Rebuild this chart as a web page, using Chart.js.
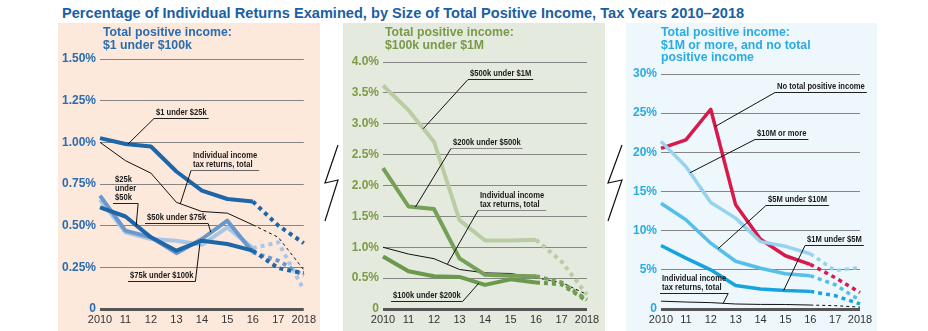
<!DOCTYPE html>
<html>
<head>
<meta charset="utf-8">
<script src="https://cdn.jsdelivr.net/npm/chart.js@4"></script>
<style>
  body { margin: 0; width: 928px; height: 331px; position: relative; background: #fff; overflow: hidden;
         font-family: 'Liberation Sans', Arial, sans-serif; }
  #title { position: absolute; left: 62px; top: 5px; font-weight: bold; font-size: 14.6px; color: #1a5fa5; white-space: nowrap; }
  .panel { position: absolute; top: 23px; height: 308px; }
  .panel canvas { position: absolute; left: 0; top: 0; }
  .sub { position: absolute; top: 3px; font-weight: bold; font-size: 12.3px; line-height: 12.5px; white-space: nowrap; }
  svg { position: absolute; left: 0; top: 0; }
</style>
</head>
<body>
<div id="title">Percentage of Individual Returns Examined, by Size of Total Positive Income, Tax Years 2010–2018</div>

<div class="panel" style="left:58px;width:262px;background:#fde9dc">
  <canvas id="c1" width="262" height="308"></canvas>
  <div class="sub" style="left:45px;color:#2a6cb0">Total positive income:<br>$1 under $100k</div>
</div>
<div class="panel" style="left:343px;width:262px;background:#e5eadf">
  <canvas id="c2" width="262" height="308"></canvas>
  <div class="sub" style="left:42px;color:#7a9a48">Total positive income:<br>$100k under $1M</div>
</div>
<div class="panel" style="left:626px;width:251px;background:#eef7fc">
  <canvas id="c3" width="251" height="308"></canvas>
  <div class="sub" style="left:35px;color:#2aabe3">Total positive income:<br>$1M or more, and no total<br>positive income</div>
</div>

<svg width="928" height="331">
  <polyline points="338,145 325,183 338,180 325,221" fill="none" stroke="#111" stroke-width="1.2"/>
  <polyline points="622,145 608,183 622,180 608,221" fill="none" stroke="#111" stroke-width="1.2"/>
</svg>

<script>
// tax years on the x axis
const years = ['2010', '11', '12', '13', '14', '15', '16', '17', '2018'];

// all individual income tax returns (same in every panel), percent examined
const totalAll = [1.00, 0.89, 0.815, 0.64, 0.585, 0.575, 0.505, 0.43, 0.235];

// panel 1: $1 under $100k
const under25k = [1.025, 0.99, 0.975, 0.825, 0.71, 0.66, 0.645, 0.50, 0.395];
const k25to50 = [0.61, 0.555, 0.43, 0.35, 0.41, 0.39, 0.35, 0.245, 0.215];
const k50to75 = [0.68, 0.47, 0.43, 0.335, 0.42, 0.53, 0.34, 0.29, 0.20];
const k75to100 = [0.655, 0.46, 0.42, 0.41, 0.385, 0.49, 0.365, 0.40, 0.115];
const p1Ticks = ['0', '0.25%', '0.50%', '0.75%', '1.00%', '1.25%', '1.50%'];

// panel 2: $100k under $1M
const k100to200 = [0.85, 0.61, 0.53, 0.52, 0.39, 0.48, 0.43, 0.40, 0.13];
const k200to500 = [2.28, 1.66, 1.62, 0.82, 0.555, 0.54, 0.53, 0.43, 0.15];
const k500to1m = [3.62, 3.22, 2.71, 1.44, 1.11, 1.11, 1.12, 0.77, 0.23];
const p2Ticks = ['0', '0.5%', '1.0%', '1.5%', '2.0%', '2.5%', '3.0%', '3.5%', '4.0%'];

// panel 3: $1M or more, and no total positive income
const m1to5 = [8.1, 6.5, 5.0, 3.0, 2.55, 2.35, 2.25, 1.7, 0.65];
const m5to10 = [13.5, 11.4, 8.4, 6.1, 5.2, 4.5, 4.25, 3.1, 1.1];
const m10plus = [21.4, 18.2, 13.6, 11.6, 8.6, 8.0, 7.05, 4.9, 5.3];
const noIncome = [20.5, 21.6, 25.5, 13.3, 8.9, 6.8, 5.7, 4.0, 2.1];
const p3Ticks = ['0', '5%', '10%', '15%', '20%', '25%', '30%'];

const SANS = "'Liberation Sans', Arial, sans-serif";
const SQUEEZE = 0.8; // note labels are a condensed face, fake it by scaling

// lines go dashed after 2016 (projected years)
function series(data, color, width, dash) {
	return {
		data, borderColor: color, borderWidth: width, pointRadius: 0, tension: 0,
		borderCapStyle: 'butt', borderJoinStyle: 'round',
		segment: { borderDash: ctx => ctx.p0DataIndex >= 6 ? dash : undefined }
	};
}
const total = () => series(totalAll, '#111', 1, [3, 3]);

// label + underline + leader line, positioned in data units
const notesPlugin = {
	id: 'notes',
	afterDatasetsDraw(chart, args, opts) {
		const { ctx, scales: { x, y } } = chart;
		ctx.save();
		ctx.font = 'bold 9.5px ' + SANS;
		ctx.textBaseline = 'alphabetic';
		for (const n of opts.items || []) {
			const px = Math.round(x.getPixelForValue(n.at[0])), py = Math.round(y.getPixelForValue(n.at[1]));
			const w = Math.max(...n.lines.map(l => ctx.measureText(l).width)) * SQUEEZE + 4;
			ctx.fillStyle = '#1a1a1a';
			n.lines.forEach((l, i) => {
				ctx.save();
				ctx.translate(px + 2, py - 3 - (n.lines.length - 1 - i) * 9);
				ctx.scale(SQUEEZE, 1);
				ctx.fillText(l, 0, 0);
				ctx.restore();
			});
			ctx.strokeStyle = n.rule || '#222';
			ctx.lineWidth = 1;
			ctx.beginPath(); ctx.moveTo(px, py + 0.5); ctx.lineTo(px + w, py + 0.5); ctx.stroke();
			const sx = n.from === 'right' ? px + w : px;
			ctx.strokeStyle = '#111';
			ctx.beginPath(); ctx.moveTo(sx, py + 0.5);
			ctx.lineTo(x.getPixelForValue(n.to[0]), y.getPixelForValue(n.to[1])); ctx.stroke();
		}
		ctx.restore();
	}
};

function makePanel(id, opts) {
	return new Chart(document.getElementById(id), {
		type: 'line',
		data: { labels: years, datasets: opts.datasets },
		plugins: [notesPlugin],
		options: {
			responsive: false,
			animation: false,
			layout: { padding: { top: opts.top, right: opts.right, left: 0, bottom: 0 } },
			plugins: { legend: { display: false }, tooltip: { enabled: false }, notes: { items: opts.notes } },
			scales: {
				x: {
					grid: { display: false, drawTicks: false },
					border: { display: false },
					afterFit: s => { s.height = 22; },
					ticks: { color: '#333', autoSkip: false, maxRotation: 0, padding: 4,
						font: { family: SANS, size: 11 } }
				},
				y: {
					min: 0, max: opts.max,
					afterFit: s => { s.width = opts.axisW; },
					border: { display: false },
					grid: {
						drawTicks: false,
						color: c => c.tick && c.tick.value === 0 ? '#555' : '#858585',
						lineWidth: c => c.tick && c.tick.value === 0 ? 3 : 1
					},
					ticks: { stepSize: opts.step, padding: 4, color: opts.tickColor,
						font: { family: SANS, size: 12, weight: 'bold' },
						callback: (v, i) => opts.ticks[i] }
				}
			}
		}
	});
}

makePanel('c1', {
	max: 1.5, step: 0.25, ticks: p1Ticks, tickColor: '#2a6cb0', axisW: 42, top: 36, right: 12,
	datasets: [
		total(),
		series(k25to50, '#1d66a8', 4, [4, 4]),
		series(under25k, '#1d66a8', 4, [4, 4]),
		series(k50to75, '#6b98cb', 4, [4, 4]),
		series(k75to100, '#a9c6e6', 4, [4, 4])
	],
	notes: [
		{ lines: ['$1 under $25k'], at: [2.12, 1.147], from: 'left', to: [1.1, 0.99] },
		{ lines: ['Individual income', 'tax returns, total'], at: [3.58, 0.836], from: 'left', to: [3.15, 0.63], rule: '#666' },
		{ lines: ['$25k', 'under', '$50k'], at: [0.5, 0.638], from: 'right', to: [1.42, 0.5] },
		{ lines: ['$50k under $75k'], at: [1.77, 0.518], from: 'right', to: [4.35, 0.46] },
		{ lines: ['$75k under $100k'], at: [1.08, 0.17], from: 'right', to: [3.92, 0.39] }
	]
});

makePanel('c2', {
	max: 4, step: 0.5, ticks: p2Ticks, tickColor: '#7d9b46', axisW: 40, top: 39, right: 18,
	datasets: [
		series(k500to1m, '#bacca4', 4, [4, 4]),
		series(k200to500, '#76a058', 4, [4, 4]),
		series(k100to200, '#6a994b', 4, [4, 4]),
		total()
	],
	notes: [
		{ lines: ['$500k under $1M'], at: [3.33, 3.72], from: 'left', to: [1.58, 2.92] },
		{ lines: ['$200k under $500k'], at: [2.65, 2.61], from: 'left', to: [1.27, 1.65], rule: '#888' },
		{ lines: ['Individual income', 'tax returns, total'], at: [3.72, 1.6], from: 'left', to: [2.53, 0.73], rule: '#888' },
		{ lines: ['$100k under $200k'], at: [0.32, 0.13], from: 'right', to: [3.76, 0.42] }
	]
});

makePanel('c3', {
	max: 30, step: 5, ticks: p3Ticks, tickColor: '#2aabe3', axisW: 35, top: 51, right: 17,
	datasets: [
		total(),
		series(m1to5, '#17a3e0', 3.5, [4, 4]),
		series(m5to10, '#55bfe9', 3.5, [4, 4]),
		series(m10plus, '#96d3f0', 3.5, [4, 4]),
		series(noIncome, '#d7194b', 3.5, [4, 4])
	],
	notes: [
		{ lines: ['No total positive income'], at: [4.57, 27.7], from: 'left', to: [2.18, 23.3] },
		{ lines: ['$10M or more'], at: [3.76, 21.7], from: 'left', to: [1.17, 17.4] },
		{ lines: ['$5M under $10M'], at: [4.24, 13.3], from: 'left', to: [2.3, 7.7] },
		{ lines: ['$1M under $5M'], at: [5.78, 8.2], from: 'left', to: [4.93, 2.36] },
		{ lines: ['Individual income', 'tax returns, total'], at: [-0.04, 2.08], from: 'right', to: [2.5, 0.73] }
	]
});
</script>
</body>
</html>
